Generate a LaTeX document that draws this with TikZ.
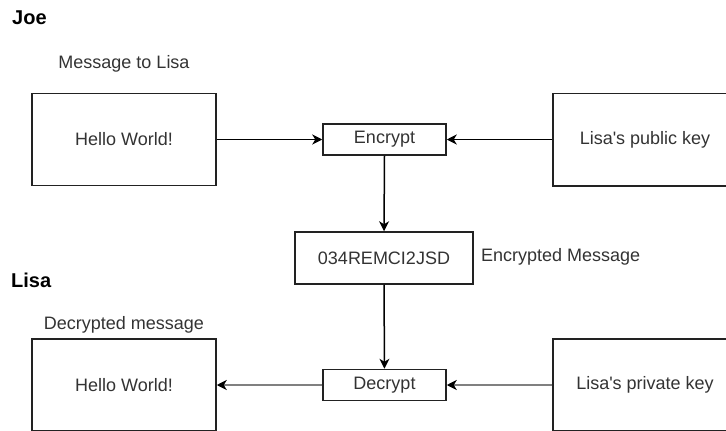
\documentclass[tikz,border=0pt]{standalone}
\usepackage{fontspec}
\setmainfont{Liberation Sans}[Ligatures=TeXOff]
\usetikzlibrary{arrows.meta}
\definecolor{ink}{HTML}{333333}
\definecolor{edge}{HTML}{222222}
\definecolor{softline}{HTML}{808080}
\begin{document}
\begin{tikzpicture}[x=1pt,y=-1pt,
  txt/.style={font=\fontsize{18}{21}\selectfont, text=ink, inner sep=0pt},
  heading/.style={font=\fontsize{20}{23}\selectfont\bfseries, text=black, inner sep=0pt, anchor=west},
  bigbox/.style={draw=edge, line width=1.5pt, fill=white, minimum width=184pt, minimum height=92pt, font=\fontsize{18}{21}\selectfont, text=ink, inner sep=0pt},
  smallbox/.style={draw=edge, line width=1.5pt, fill=white, font=\fontsize{18}{21}\selectfont, text=ink, inner sep=0pt},
  flow/.style={draw=black, line width=1.5pt, -{Stealth[length=10pt,width=10pt,inset=3pt]}},
  softflow/.style={draw=softline, line width=1.7pt, -{Stealth[length=10pt,width=10pt,inset=3pt,color=black]}}
]
\useasboundingbox (0,0) rectangle (726,431);
\clip (0,0) rectangle (726,431);

% headings and captions
\node[heading] (joe) at (12,18) {Joe};
\node[heading] (lisa) at (11,280) {Lisa};
\node[txt] (capmsg) at (124,64) {Message to Lisa};
\node[txt] (capdec) at (124,325) {Decrypted message};

% Joe's side
\node[bigbox] (plain) at (124,139.5) {Hello World!};
\node[smallbox, minimum width=123pt, minimum height=31pt] (enc) at (384.5,139.5) {Encrypt};
\node[bigbox, minimum height=92.5pt] (pub) at (645,139.5) {Lisa's public key};

% ciphertext
\node[smallbox, minimum width=178pt, minimum height=52pt] (cipher) at (384,258) {034REMCI2JSD};
\node[txt, anchor=west] (ciplabel) at (481,257) {Encrypted Message};

% Lisa's side
\node[bigbox] (out) at (124,385) {Hello World!};
\node[smallbox, minimum width=123pt, minimum height=31pt] (dec) at (384.5,385) {Decrypt};
\node[bigbox] (priv) at (645,385) {Lisa's private key};

% connectors
\draw[flow] (plain.east) -- (enc.west);
\draw[flow] (pub.west) -- (enc.east);
\draw[flow] (enc.south) -- (cipher.north);
\draw[flow] (cipher.south) -- (dec.north);
\draw[softflow] (priv.west) -- (dec.east);
\draw[softflow] (dec.west) -- (out.east);
\end{tikzpicture}
\end{document}
